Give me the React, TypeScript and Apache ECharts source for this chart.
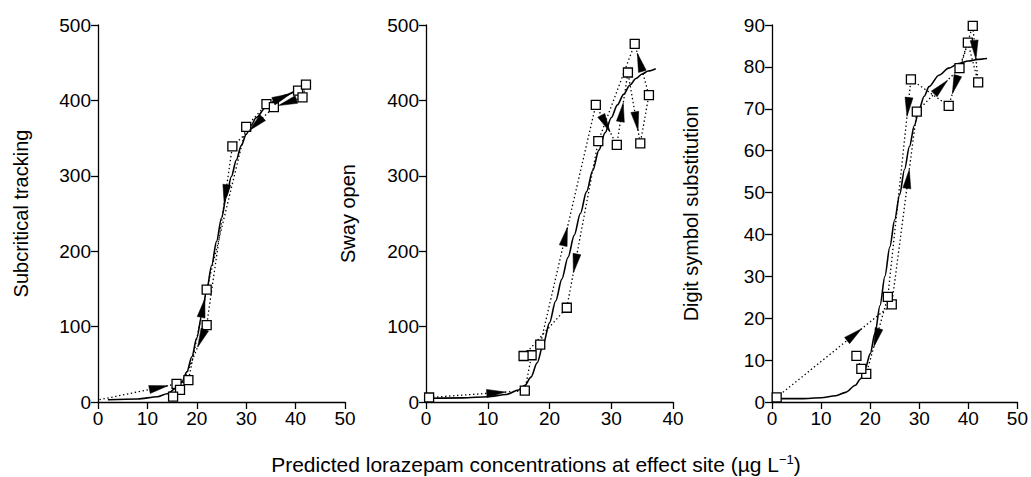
import React, { useEffect, useRef } from "react";
import * as echarts from "echarts";

const FONT = "'Liberation Sans', Arial, Helvetica, sans-serif";

// Subcritical tracking: observations in time order, and the fitted sigmoid curve
const stConc = [0.3, 15.9, 18.3, 22.0, 30.0, 34.1, 40.5, 42.1, 41.4, 35.6, 27.2, 22.0, 16.6, 15.2];
const stEffect = [3, 24, 29, 149, 365, 395, 413, 421, 404, 391, 339, 102, 16, 7];
const stFitConc = [2, 8, 12, 14, 16, 17, 18, 19, 20, 21, 22, 23, 24, 25, 26, 27, 28, 29, 30, 31, 32, 34, 36, 38, 40, 42];
const stFitEffect = [3, 4, 7, 11, 19, 27, 40, 60, 85, 115, 148, 181, 213, 244, 273, 299, 321, 340, 355, 367, 377, 391, 400, 407, 412, 416];
// [segment index, position of the arrow tip along that segment]
const stArrows = [[0, 0.89], [2, 0.9], [5, 0.77], [8, 0.84], [9, 0.6], [10, 0.32], [11, 0.34]];

// Sway open
const swConc = [0.5, 16.0, 17.1, 18.5, 27.5, 30.9, 32.7, 34.7, 36.1, 33.8, 27.9, 22.8, 15.8];
const swEffect = [6, 15, 62, 76, 394, 341, 437, 343, 407, 475, 346, 125, 61];
const swFitConc = [1, 6, 10, 13, 15, 16, 17, 18, 19, 20, 21, 22, 23, 24, 25, 26, 27, 28, 29, 30, 31, 32, 33, 34, 35, 36, 37.2];
const swFitEffect = [5, 5.5, 7, 10, 16, 22, 33, 52, 77, 105, 134, 163, 192, 221, 250, 279, 307, 334, 357, 377, 394, 408, 420, 429, 435, 439, 442];
const swArrows = [[0, 0.8], [3, 0.49], [4, 0.68], [5, 0.58], [6, 0.82], [8, 0.82], [10, 0.79]];

// Digit symbol substitution
const dsConc = [0.95, 24.4, 29.5, 38.2, 40.9, 42.0, 39.9, 36.0, 28.3, 23.6, 19.2, 18.2, 17.2];
const dsEffect = [1.1, 23.3, 69.3, 79.7, 89.8, 76.3, 85.8, 70.7, 77.0, 25.1, 6.7, 7.9, 11.0];
const dsFitConc = [1, 6, 10, 13, 15, 17, 18, 19, 20, 21, 22, 23, 24, 25, 26, 27, 28, 29, 30, 31, 32, 34, 36, 38, 40, 42, 43.8];
const dsFitEffect = [0.8, 0.8, 1, 1.5, 2.3, 4, 5.5, 8, 11.5, 16.5, 23, 30, 37, 43.5, 49.5, 55.5, 61, 66, 70, 73, 75.3, 78, 79.7, 80.8, 81.4, 81.8, 82];
const dsArrows = [[0, 0.74], [1, 0.7], [2, 0.72], [4, 0.59], [6, 0.81], [8, 0.17], [9, 0.65]];

const yNames = ["Subcritical tracking", "Sway open", "Digit symbol substitution"];
const xMaxes = [50, 40, 50];
const yMaxes = [500, 500, 90];
const yIntervals = [100, 100, 10];
const xTitle = "Predicted lorazepam concentrations at effect site (\u00b5g L";

const panels = [
  { conc: stConc, effect: stEffect, fitX: stFitConc, fitY: stFitEffect, arrows: stArrows, hideFirst: true },
  { conc: swConc, effect: swEffect, fitX: swFitConc, fitY: swFitEffect, arrows: swArrows, hideFirst: false },
  { conc: dsConc, effect: dsEffect, fitX: dsFitConc, fitY: dsFitEffect, arrows: dsArrows, hideFirst: false },
];

const grids = [
  { left: 98, top: 25, width: 247, height: 377 },
  { left: 426, top: 25, width: 247, height: 377 },
  { left: 772, top: 25, width: 246, height: 377 },
];
const nameGaps = [67, 68, 71];

const axisLine = { show: true, lineStyle: { color: "#000", width: 1.3 } };
const axisTick = { show: true, length: 7, lineStyle: { color: "#000", width: 1.3 } };
const labelStyle = { color: "#000", fontSize: 19, fontFamily: FONT };

function arrowRenderer(params: any, api: any) {
  const p1 = api.coord([api.value(0), api.value(1)]);
  const p2 = api.coord([api.value(2), api.value(3)]);
  const f = api.value(4);
  const dx = p2[0] - p1[0];
  const dy = p2[1] - p1[1];
  const len = Math.hypot(dx, dy) || 1;
  const ux = dx / len;
  const uy = dy / len;
  const L = 19;
  const W = 4;
  const tip = [p1[0] + dx * f, p1[1] + dy * f];
  const base = [tip[0] - ux * L, tip[1] - uy * L];
  const nx = -uy;
  const ny = ux;
  return {
    type: "polygon",
    shape: {
      points: [tip, [base[0] + nx * W, base[1] + ny * W], [base[0] - nx * W, base[1] - ny * W]],
    },
    style: { fill: "#000", stroke: "#000", lineWidth: 0.5 },
  };
}

export default function App() {
  const ref = useRef<HTMLDivElement>(null);

  useEffect(() => {
    if (!ref.current) return;
    const chart = echarts.init(ref.current, undefined, { renderer: "svg" });

    const series: any[] = [];
    panels.forEach((p, i) => {
      series.push({
        type: "line",
        xAxisIndex: i,
        yAxisIndex: i,
        data: p.fitX.map((x, k) => [x, p.fitY[k]]),
        smooth: 0.3,
        smoothMonotone: "x",
        showSymbol: false,
        symbol: "none",
        lineStyle: { color: "#000", width: 1.6 },
        z: 2,
      });
      series.push({
        type: "line",
        xAxisIndex: i,
        yAxisIndex: i,
        data: p.conc.map((x, k) =>
          k === 0 && p.hideFirst ? { value: [x, p.effect[k]], symbol: "none" } : [x, p.effect[k]]
        ),
        symbol: "rect",
        symbolSize: 9,
        showAllSymbol: true,
        lineStyle: { color: "#000", width: 1.3, type: [1.4, 2.6] },
        itemStyle: { color: "#fff", borderColor: "#000", borderWidth: 1.3 },
        z: 3,
      });
      series.push({
        type: "custom",
        coordinateSystem: "cartesian2d",
        xAxisIndex: i,
        yAxisIndex: i,
        renderItem: arrowRenderer,
        encode: { x: [0, 2], y: [1, 3] },
        data: p.arrows.map(([s, f]) => [p.conc[s], p.effect[s], p.conc[s + 1], p.effect[s + 1], f]),
        z: 4,
      });
    });

    chart.setOption({
      animation: false,
      backgroundColor: "#fff",
      grid: grids.map((g) => ({ ...g, containLabel: false })),
      xAxis: xMaxes.map((max, i) => ({
        type: "value",
        gridIndex: i,
        min: 0,
        max,
        interval: 10,
        axisLine,
        axisTick,
        axisLabel: { ...labelStyle, margin: 7 },
        splitLine: { show: false },
      })),
      yAxis: yMaxes.map((max, i) => ({
        type: "value",
        gridIndex: i,
        min: 0,
        max,
        interval: yIntervals[i],
        axisLine,
        axisTick,
        axisLabel: { ...labelStyle, margin: 7 },
        splitLine: { show: false },
        name: yNames[i],
        nameLocation: "middle",
        nameRotate: 90,
        nameGap: nameGaps[i],
        nameTextStyle: { color: "#000", fontSize: 20, fontFamily: FONT },
      })),
      series,
      graphic: [
        {
          type: "text",
          x: 536,
          y: 453,
          style: {
            text: xTitle + "{sup|\u22121}" + ")",
            align: "center",
            fill: "#000",
            fontSize: 21,
            fontFamily: FONT,
            rich: {
              sup: { fontSize: 13, fontFamily: FONT, fill: "#000", verticalAlign: "top", padding: [0, 0, 10, 0] },
            },
          },
        },
      ],
    });

    return () => chart.dispose();
  }, []);

  return (
    <div
      ref={ref}
      style={{ position: "absolute", left: 0, top: 0, width: 1031, height: 477, background: "#fff" }}
    />
  );
}
